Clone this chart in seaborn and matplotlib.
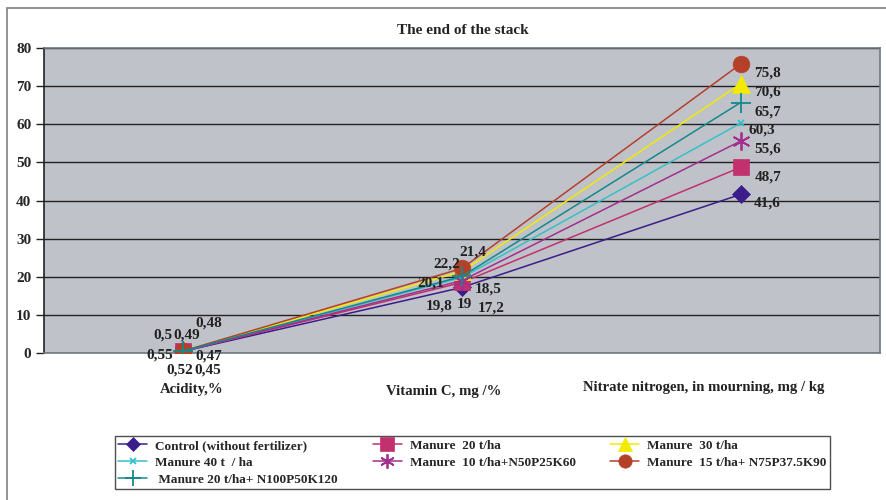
import matplotlib
matplotlib.use("Agg")
import matplotlib.pyplot as plt
import matplotlib.patches as mpatches
import seaborn as sns
import pandas as pd

# categories on the x axis
categories = ["Acidity,%", "Vitamin C, mg /%", "Nitrate nitrogen, in mourning, mg / kg"]

series_names = [
    "Control (without fertilizer)",
    "Manure  20 t/ha",
    "Manure  30 t/ha",
    "Manure 40 t  / ha",
    "Manure  10 t/ha+N50P25K60",
    "Manure  15 t/ha+ N75P37.5K90",
    " Manure 20 t/ha+ N100P50K120",
]

control = [0.45, 17.2, 41.6]
manure_20 = [0.47, 18.5, 48.7]
manure_30 = [0.5, 21.4, 70.6]
manure_40 = [0.49, 19.8, 60.3]
manure_10_npk = [0.48, 19, 55.6]
manure_15_npk = [0.55, 22.2, 75.8]
manure_20_npk = [0.52, 20.1, 65.7]

values = [control, manure_20, manure_30, manure_40, manure_10_npk, manure_15_npk, manure_20_npk]

colors = ["#3a1d8a", "#c2306e", "#f2ea00", "#35c0c8", "#a2308e", "#b5402a", "#128a8c"]
markers = ["D", "s", "^", "x", (6, 2, 0), "o", "+"]
msizes = [9, 12, 13, 5, 13, 12, 15]

# label offsets in pixels (dx, dy up) for acidity / vitamin C / nitrate
label_offsets = [
    [(24, -19), (29, -21), (27, -9)],
    [(25, -5), (26, -7), (27, -10)],
    [(-20, 16), (11, 19), (27, -8)],
    [(3, 16), (-23, -29), (21, -7)],
    [(25, 28), (2, -24), (27, -8)],
    [(-24, -4), (-15, 4), (27, -9)],
    [(-4, -19), (-31, -7), (27, -9)],
]
# category label shifts in pixels (dx, dy up)
cat_offsets = [(8, -37), (-18, -39), (-37, -34)]

sns.set_style("white")
plt.rcParams["font.family"] = ["Liberation Serif", "DejaVu Serif"]
plt.rcParams["font.weight"] = "bold"

fig = plt.figure(figsize=(8.86, 5.0), dpi=100)
ax = fig.add_axes([44 / 886, 1 - 353 / 500, (880 - 44) / 886, (353 - 48) / 500])
ax.set_facecolor("#c0c2ca")

rows = []
for name, vals in zip(series_names, values):
    for i, v in enumerate(vals):
        rows.append({"series": name, "x": i, "value": v})
df = pd.DataFrame(rows)

for k, name in enumerate(series_names):
    d = df[df["series"] == name]
    sns.lineplot(data=d, x="x", y="value", color=colors[k], marker=markers[k],
                 markersize=msizes[k], markeredgecolor=colors[k],
                 markeredgewidth=1.3 if k in (3, 4, 6) else 0.5,
                 linewidth=1.1, label=name, ax=ax, zorder=3 + k)

for k, vals in enumerate(values):
    for i, v in enumerate(vals):
        dx, dy = label_offsets[k][i]
        ax.annotate(f"{v:g}".replace(".", ","), (i, v), xytext=(dx, dy),
                    textcoords="offset pixels", ha="center", va="center",
                    fontsize=11, fontweight="bold", color="#222222",
                    zorder=20, annotation_clip=False)

for i, cat in enumerate(categories):
    dx, dy = cat_offsets[i]
    ax.annotate(cat, (i, 0), xycoords=("data", "axes fraction"), xytext=(dx, dy),
                textcoords="offset pixels", ha="center", va="center",
                fontsize=10.6, fontweight="bold", color="#222222", annotation_clip=False)

ax.set_xlim(-0.5, 2.5)
ax.set_ylim(0, 80)
ax.set_yticks(range(0, 81, 10))
ax.set_yticklabels([str(t) for t in range(0, 81, 10)], fontsize=11, fontweight="bold")
ax.yaxis.grid(True, color="#222222", linewidth=1)
ax.set_axisbelow(True)
ax.tick_params(axis="y", direction="out", length=5.5, width=1, color="#222222", pad=3.5, left=True)
ax.set_xticks([])
ax.set_xlabel("")
ax.set_ylabel("")
for side in ["top", "right", "bottom"]:
    ax.spines[side].set_color("#707880")
    ax.spines[side].set_linewidth(1.2)
ax.spines["left"].set_color("#222222")
ax.spines["left"].set_linewidth(1.2)

fig.text(463 / 886, 1 - 31 / 500, "The end of the stack", ha="center", va="center",
         fontsize=11, fontweight="bold", color="#222222")

# outer chart frame
fig.patches.append(mpatches.Rectangle((7 / 886, -0.05), 1.2, 1 - 8 / 500 + 0.05,
                                      transform=fig.transFigure, fill=False,
                                      edgecolor="#808080", linewidth=1.2))

handles, labels = ax.get_legend_handles_labels()
ax.get_legend().remove()
order = [0, 3, 6, 1, 4, 2, 5]
leg = fig.legend([handles[i] for i in order], [labels[i] for i in order],
                 loc="lower left", bbox_to_anchor=(115 / 886, 1 - 489 / 500, (830 - 115) / 886, (489 - 432) / 500),
                 mode="expand", ncol=3, frameon=True, fancybox=False, handlelength=2.2,
                 fontsize=9.5, borderpad=0.25, labelspacing=0.35, handletextpad=0.6,
                 columnspacing=1.5, borderaxespad=0, markerscale=0.8)
leg.get_frame().set_edgecolor("#222222")
leg.get_frame().set_linewidth(1)
for t in leg.get_texts():
    t.set_fontweight("bold")

fig.savefig("out.png", dpi=100)
